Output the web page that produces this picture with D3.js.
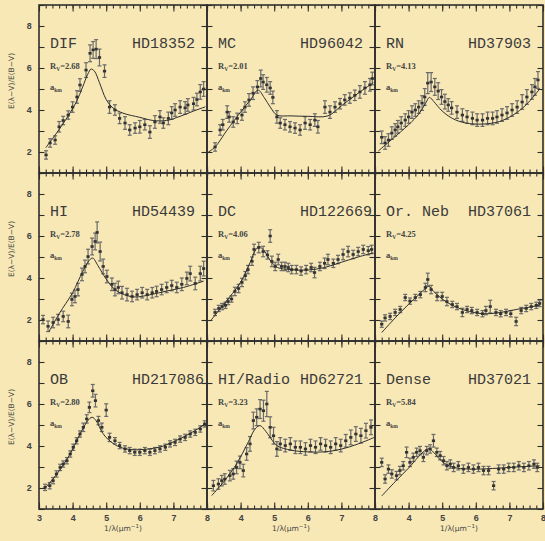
<!DOCTYPE html>
<html>
<head>
<meta charset="utf-8">
<script src="https://cdn.jsdelivr.net/npm/d3@7"></script>
<style>
  html, body { margin: 0; padding: 0; background: #f8e8b6; }
  svg { display: block; }
</style>
</head>
<body>
<svg id="chart" width="545" height="541"></svg>
<script>
// Extinction curves E(λ−V)/E(B−V) versus inverse wavelength, one panel per environment.
const groups = ["DIF", "MC", "RN", "HI", "DC", "Or. Neb", "OB", "HI/Radio", "Dense"];
const stars  = ["HD18352", "HD96042", "HD37903", "HD54439", "HD122669", "HD37061", "HD217086", "HD62721", "HD37021"];
const rvValues = ["2.68", "2.01", "4.13", "2.78", "4.06", "4.25", "2.80", "3.23", "5.84"];
const xTicks = [3, 4, 5, 6, 7, 8];
const yTicks = [2, 4, 6, 8];

// measurements: [1/λ, E(λ−V)/E(B−V), error]
const difPts = [[3.21,1.86,0.2],[3.33,2.43,0.2],[3.48,2.57,0.2],[3.6,3.2,0.25],[3.72,3.5,0.2],[3.87,3.76,0.2],[4.0,4.14,0.25],[4.13,4.62,0.3],[4.22,5.19,0.3],[4.4,5.9,0.35],[4.52,6.7,0.4],[4.61,6.86,0.4],[4.7,6.9,0.45],[4.8,6.5,0.4],[4.95,5.85,0.3],[5.1,4.14,0.3],[5.26,4.0,0.25],[5.4,3.6,0.25],[5.56,3.38,0.3],[5.7,3.05,0.25],[5.86,3.14,0.25],[6.0,3.2,0.3],[6.15,3.3,0.25],[6.3,2.95,0.3],[6.45,3.43,0.3],[6.6,3.67,0.3],[6.7,3.38,0.25],[6.85,3.6,0.3],[6.95,3.86,0.3],[7.05,4.0,0.3],[7.2,4.14,0.3],[7.35,4.1,0.3],[7.43,4.24,0.3],[7.6,4.3,0.3],[7.7,4.5,0.3],[7.8,4.86,0.35],[7.9,5.0,0.35]];
const mcPts = [[3.24,2.24,0.2],[3.39,3.05,0.25],[3.47,3.3,0.25],[3.6,3.9,0.3],[3.66,3.67,0.25],[3.78,3.43,0.25],[3.9,3.6,0.25],[4.04,3.76,0.25],[4.13,4.14,0.25],[4.25,4.48,0.3],[4.37,4.8,0.3],[4.5,5.1,0.3],[4.6,5.5,0.4],[4.67,5.33,0.35],[4.78,5.2,0.35],[4.88,5.05,0.3],[4.96,4.6,0.3],[5.08,3.67,0.3],[5.18,3.38,0.25],[5.32,3.3,0.25],[5.47,3.2,0.25],[5.62,3.14,0.25],[5.77,3.05,0.25],[5.92,3.38,0.3],[6.07,3.3,0.25],[6.21,3.52,0.3],[6.3,3.2,0.3],[6.51,4.14,0.3],[6.66,3.9,0.3],[6.81,4.14,0.25],[6.96,4.3,0.25],[7.1,4.48,0.25],[7.25,4.57,0.25],[7.4,4.7,0.25],[7.55,4.86,0.3],[7.7,5.05,0.3],[7.85,5.2,0.3],[7.92,5.5,0.3]];
const rnPts = [[3.2,2.7,0.3],[3.3,2.43,0.3],[3.4,2.57,0.3],[3.5,2.9,0.3],[3.6,3.05,0.3],[3.68,3.2,0.3],[3.78,3.38,0.3],[3.9,3.52,0.3],[4.0,3.67,0.3],[4.1,3.9,0.3],[4.2,4.0,0.3],[4.3,4.14,0.3],[4.4,4.33,0.35],[4.48,4.62,0.4],[4.57,5.28,0.5],[4.67,5.33,0.45],[4.78,5.1,0.4],[4.88,4.9,0.4],[4.98,4.62,0.35],[5.08,4.4,0.35],[5.18,4.24,0.3],[5.28,4.1,0.3],[5.44,3.9,0.3],[5.6,3.76,0.3],[5.74,3.67,0.3],[5.9,3.6,0.3],[6.04,3.52,0.3],[6.2,3.52,0.3],[6.35,3.6,0.3],[6.5,3.6,0.3],[6.63,3.67,0.3],[6.78,3.76,0.3],[6.93,3.86,0.3],[7.08,4.0,0.3],[7.23,4.14,0.3],[7.38,4.38,0.35],[7.52,4.62,0.35],[7.67,4.86,0.35],[7.76,5.1,0.4],[7.85,5.43,0.4]];
const hiPts = [[3.12,2.02,0.2],[3.27,1.7,0.25],[3.42,1.88,0.25],[3.57,2.02,0.25],[3.72,2.17,0.25],[3.87,1.93,0.3],[3.98,2.98,0.3],[4.07,3.12,0.3],[4.16,3.45,0.3],[4.28,4.17,0.3],[4.37,4.55,0.3],[4.46,5.02,0.35],[4.58,5.5,0.4],[4.67,5.74,0.4],[4.73,6.17,0.5],[4.82,5.26,0.45],[4.91,4.55,0.35],[5.02,4.07,0.3],[5.17,3.7,0.3],[5.26,3.45,0.3],[5.36,3.55,0.3],[5.47,3.3,0.3],[5.62,3.21,0.3],[5.77,3.12,0.25],[5.92,3.21,0.25],[6.07,3.3,0.25],[6.22,3.21,0.25],[6.37,3.3,0.25],[6.5,3.36,0.25],[6.65,3.45,0.25],[6.8,3.55,0.25],[6.95,3.64,0.25],[7.1,3.55,0.25],[7.25,3.7,0.3],[7.4,3.98,0.3],[7.5,4.21,0.35],[7.65,3.74,0.3],[7.8,4.21,0.35],[7.9,4.45,0.35]];
const dcPts = [[3.24,2.36,0.15],[3.35,2.55,0.15],[3.45,2.64,0.15],[3.55,2.7,0.15],[3.63,2.88,0.15],[3.73,3.0,0.15],[3.83,3.36,0.2],[3.94,3.5,0.2],[4.04,3.79,0.2],[4.14,4.11,0.2],[4.22,4.4,0.2],[4.34,4.8,0.2],[4.4,5.36,0.25],[4.54,5.45,0.25],[4.67,5.26,0.25],[4.8,5.1,0.2],[4.88,6.0,0.3],[4.93,4.79,0.25],[5.03,4.55,0.2],[5.12,4.88,0.25],[5.22,4.55,0.2],[5.32,4.55,0.2],[5.42,4.5,0.2],[5.52,4.4,0.2],[5.66,4.4,0.2],[5.8,4.33,0.2],[5.95,4.4,0.2],[6.1,4.5,0.2],[6.2,4.26,0.25],[6.36,4.55,0.2],[6.5,4.7,0.25],[6.6,4.88,0.25],[6.76,4.7,0.2],[6.9,4.88,0.2],[7.05,5.12,0.25],[7.2,5.26,0.25],[7.35,5.12,0.2],[7.5,5.26,0.2],[7.65,5.36,0.2],[7.8,5.3,0.2],[7.9,5.36,0.2]];
const orionPts = [[3.2,1.8,0.15],[3.3,2.1,0.15],[3.45,2.17,0.15],[3.6,2.36,0.15],[3.75,2.5,0.15],[3.9,3.07,0.15],[4.04,2.9,0.15],[4.2,3.07,0.15],[4.35,3.21,0.15],[4.5,3.55,0.2],[4.57,3.93,0.3],[4.67,3.45,0.2],[4.85,3.12,0.2],[5.0,3.12,0.2],[5.14,2.88,0.2],[5.3,2.74,0.15],[5.44,2.64,0.15],[5.6,2.36,0.2],[5.74,2.5,0.15],[5.88,2.45,0.15],[6.04,2.36,0.15],[6.2,2.3,0.15],[6.3,2.45,0.2],[6.43,2.64,0.3],[6.6,2.36,0.15],[6.74,2.3,0.15],[6.9,2.36,0.15],[7.04,2.3,0.15],[7.2,1.93,0.2],[7.35,2.45,0.15],[7.5,2.55,0.15],[7.65,2.64,0.15],[7.8,2.7,0.15],[7.9,2.79,0.15]];
const obPts = [[3.18,2.03,0.15],[3.32,2.11,0.15],[3.42,2.35,0.15],[3.52,2.67,0.15],[3.63,2.98,0.15],[3.72,3.14,0.15],[3.83,3.3,0.15],[3.93,3.62,0.15],[4.02,3.94,0.15],[4.12,4.25,0.15],[4.22,4.57,0.15],[4.32,4.89,0.2],[4.42,5.29,0.2],[4.5,5.84,0.25],[4.6,6.63,0.3],[4.68,6.16,0.3],[4.77,5.21,0.2],[4.87,4.89,0.2],[5.0,5.71,0.3],[5.1,4.41,0.2],[5.26,4.25,0.15],[5.4,4.02,0.15],[5.56,3.86,0.15],[5.7,3.78,0.15],[5.85,3.7,0.15],[6.0,3.7,0.15],[6.15,3.78,0.15],[6.3,3.7,0.15],[6.45,3.78,0.15],[6.6,3.86,0.15],[6.76,3.94,0.15],[6.9,4.1,0.15],[7.05,4.17,0.15],[7.2,4.33,0.15],[7.35,4.41,0.15],[7.5,4.57,0.15],[7.65,4.65,0.15],[7.8,4.81,0.15],[7.93,5.05,0.15]];
const radioPts = [[3.19,2.11,0.25],[3.34,2.19,0.25],[3.44,2.35,0.25],[3.53,2.43,0.25],[3.68,2.59,0.25],[3.78,2.67,0.25],[3.88,2.98,0.3],[3.98,3.22,0.3],[4.08,2.83,0.3],[4.18,3.62,0.3],[4.28,4.1,0.35],[4.38,5.21,0.4],[4.48,5.37,0.4],[4.58,5.76,0.45],[4.68,5.68,0.5],[4.78,6.0,0.6],[4.88,4.89,0.5],[4.98,4.49,0.4],[5.08,3.86,0.35],[5.18,4.1,0.3],[5.33,4.02,0.3],[5.48,4.1,0.3],[5.63,3.94,0.3],[5.78,3.94,0.3],[5.93,3.86,0.3],[6.08,4.02,0.3],[6.23,3.94,0.3],[6.38,4.1,0.3],[6.53,4.02,0.3],[6.68,3.94,0.3],[6.83,4.1,0.3],[6.98,4.02,0.3],[7.13,4.25,0.3],[7.28,4.41,0.35],[7.43,4.57,0.35],[7.58,4.49,0.35],[7.73,4.73,0.35],[7.88,4.89,0.35]];
const densePts = [[3.2,3.22,0.2],[3.3,2.43,0.2],[3.4,2.9,0.2],[3.5,2.67,0.2],[3.64,2.59,0.2],[3.74,2.83,0.2],[3.84,3.06,0.2],[3.94,3.7,0.25],[4.04,3.22,0.2],[4.14,3.46,0.2],[4.24,3.7,0.2],[4.34,3.78,0.2],[4.44,3.46,0.2],[4.54,3.78,0.2],[4.64,3.86,0.2],[4.74,4.25,0.3],[4.84,3.7,0.2],[4.94,3.54,0.2],[5.04,3.3,0.2],[5.14,3.06,0.2],[5.24,3.14,0.2],[5.34,2.98,0.2],[5.48,3.06,0.2],[5.63,2.9,0.2],[5.78,2.98,0.2],[5.93,2.9,0.2],[6.08,2.98,0.2],[6.23,2.83,0.2],[6.38,2.83,0.2],[6.53,2.11,0.2],[6.68,2.9,0.2],[6.83,2.9,0.2],[6.98,2.98,0.2],[7.13,2.98,0.2],[7.28,3.06,0.2],[7.43,2.98,0.2],[7.58,3.06,0.2],[7.73,3.14,0.2],[7.83,2.98,0.2]];

// fitted curves: [1/λ, E(λ−V)/E(B−V)]
const difFit = [[3.2,2.2],[3.5,2.85],[3.8,3.55],[4.1,4.35],[4.3,5.1],[4.45,5.7],[4.55,5.95],[4.65,5.85],[4.8,5.3],[5.0,4.5],[5.2,4.1],[5.5,3.85],[6.0,3.65],[6.4,3.5],[6.8,3.5],[7.2,3.7],[7.6,3.95],[7.95,4.15]];
const mcFit = [[3.0,1.95],[3.24,2.24],[3.6,3.05],[4.0,3.9],[4.3,4.5],[4.52,4.95],[4.7,4.6],[4.9,4.1],[5.08,3.76],[5.5,3.72],[6.0,3.7],[6.6,3.72],[7.0,4.2],[7.5,4.8],[7.95,5.3]];
const rnFit = [[3.1,2.05],[3.5,2.6],[4.0,3.3],[4.3,3.8],[4.5,4.3],[4.62,4.6],[4.75,4.4],[5.0,3.95],[5.3,3.6],[5.7,3.38],[6.2,3.33],[6.7,3.45],[7.1,3.75],[7.5,4.25],[7.9,5.0]];
const hiFit = [[3.3,1.45],[3.6,2.3],[4.0,3.3],[4.3,4.3],[4.5,4.85],[4.6,4.95],[4.75,4.6],[5.0,3.95],[5.3,3.4],[5.8,3.1],[6.3,3.2],[6.8,3.38],[7.3,3.55],[7.9,3.85]];
const dcFit = [[3.1,1.95],[3.5,2.75],[4.0,3.8],[4.3,4.8],[4.45,5.35],[4.55,5.5],[4.7,5.3],[4.9,4.8],[5.1,4.5],[5.5,4.4],[6.0,4.38],[6.5,4.5],[7.0,4.75],[7.5,5.0],[7.95,5.2]];
const orionFit = [[3.2,1.4],[3.6,2.1],[4.0,2.75],[4.3,3.2],[4.5,3.5],[4.6,3.6],[4.75,3.35],[5.0,3.0],[5.3,2.7],[5.7,2.45],[6.2,2.3],[6.7,2.35],[7.2,2.5],[7.9,2.7]];
const obFit = [[3.15,1.95],[3.5,2.6],[3.9,3.55],[4.2,4.5],[4.45,5.2],[4.58,5.37],[4.7,5.2],[4.9,4.6],[5.1,4.25],[5.4,3.95],[5.8,3.82],[6.2,3.85],[6.6,3.95],[7.0,4.2],[7.5,4.6],[7.95,5.05]];
const radioFit = [[3.14,1.64],[3.5,2.3],[3.9,3.2],[4.2,4.1],[4.45,4.85],[4.58,4.97],[4.75,4.7],[4.95,4.25],[5.1,4.0],[5.5,3.8],[6.0,3.72],[6.5,3.72],[7.0,3.85],[7.5,4.1],[7.98,4.41]];
const denseFit = [[3.2,1.62],[3.6,2.3],[4.0,2.95],[4.3,3.5],[4.5,3.8],[4.62,3.86],[4.8,3.6],[5.0,3.25],[5.3,3.0],[5.8,2.9],[6.5,2.93],[7.2,3.0],[7.9,3.06]];

const pointSets = [difPts, mcPts, rnPts, hiPts, dcPts, orionPts, obPts, radioPts, densePts];
const fitSets = [difFit, mcFit, rnFit, hiFit, dcFit, orionFit, obFit, radioFit, denseFit];

// layout
const gridLeft = 39, gridTop = 5, pw = 168, ph = 168;
const ink = "#2e2e2e";
const mono = "'Liberation Mono', 'DejaVu Sans Mono', monospace";
const svg = d3.select("#chart");

svg.append("rect").attr("width", 545).attr("height", 541).attr("fill", "#f8e8b6");

const line = d3.line().curve(d3.curveCatmullRom.alpha(0.5));

groups.forEach((name, i) => {
  const col = i % 3, row = Math.floor(i / 3);
  const x0 = gridLeft + col * pw, y0 = gridTop + row * ph;
  const x = d3.scaleLinear().domain([3, 8]).range([x0, x0 + pw]);
  const y = d3.scaleLinear().domain([1, 9]).range([y0 + ph, y0]);
  const g = svg.append("g");

  // inward ticks on all four sides
  const minorX = d3.range(3, 8.001, 0.2);
  const addAxis = (axis, tr) => {
    const a = g.append("g").attr("transform", tr).call(axis);
    a.select(".domain").remove();
    a.selectAll("line").attr("stroke", ink).attr("stroke-width", 1.1);
    a.selectAll("text").remove();
  };
  addAxis(d3.axisBottom(x).tickValues(minorX).tickSize(-3.5).tickSizeOuter(0), `translate(0,${y0 + ph})`);
  addAxis(d3.axisBottom(x).tickValues(xTicks).tickSize(-6.5).tickSizeOuter(0), `translate(0,${y0 + ph})`);
  addAxis(d3.axisTop(x).tickValues(minorX).tickSize(-3.5).tickSizeOuter(0), `translate(0,${y0})`);
  addAxis(d3.axisTop(x).tickValues(xTicks).tickSize(-6.5).tickSizeOuter(0), `translate(0,${y0})`);
  addAxis(d3.axisLeft(y).tickValues(d3.range(1, 10)).tickSize(-5.5).tickSizeOuter(0), `translate(${x0},0)`);
  addAxis(d3.axisRight(y).tickValues(d3.range(1, 10)).tickSize(-5.5).tickSizeOuter(0), `translate(${x0 + pw},0)`);

  // tick labels on the outer edges only
  if (col === 0) {
    const a = g.append("g").attr("transform", `translate(${x0 - 4},0)`)
      .call(d3.axisLeft(y).tickValues(yTicks).tickSize(0).tickFormat(d3.format("d")));
    a.select(".domain").remove();
    a.selectAll("text").attr("font-family", mono).attr("font-size", 9).attr("font-weight", "bold").attr("fill", "#444");
  }
  if (row === 2) {
    const a = g.append("g").attr("transform", `translate(0,${y0 + ph + 3})`)
      .call(d3.axisBottom(x).tickValues(col === 0 ? xTicks : xTicks.slice(1)).tickSize(0).tickFormat(d3.format("d")));
    a.select(".domain").remove();
    a.selectAll("text").attr("font-family", mono).attr("font-size", 9).attr("font-weight", "bold").attr("fill", "#444");
    const t = g.append("text")
      .attr("x", x0 + pw / 2).attr("y", y0 + ph + 22)
      .attr("text-anchor", "middle").attr("font-family", "'DejaVu Sans', sans-serif").attr("font-size", 7.5).attr("fill", "#444");
    t.append("tspan").text("1/λ(μm");
    t.append("tspan").attr("dy", -3).attr("font-size", 5.5).text("−1");
    t.append("tspan").attr("dy", 3).text(")");
  }
  if (col === 0) {
    g.append("text")
      .attr("transform", `translate(14,${y0 + ph / 2 - 8}) rotate(-90)`)
      .attr("text-anchor", "middle").attr("font-family", "'DejaVu Sans', sans-serif").attr("font-size", 7.5).attr("fill", "#444")
      .text("E(λ−V)/E(B−V)");
  }

  // error bars with a dark centre mark
  const pts = pointSets[i];
  const bars = g.append("g").attr("stroke", "#6a6a6a").attr("stroke-width", 1.2);
  bars.append("g").selectAll("line").data(pts).join("line")
    .attr("x1", d => x(d[0])).attr("x2", d => x(d[0]))
    .attr("y1", d => y(d[1] - d[2])).attr("y2", d => y(d[1] + d[2]));
  bars.append("g").selectAll("line").data(pts).join("line")
    .attr("x1", d => x(d[0]) - 2).attr("x2", d => x(d[0]) + 2)
    .attr("y1", d => y(d[1] - d[2])).attr("y2", d => y(d[1] - d[2]));
  bars.append("g").selectAll("line").data(pts).join("line")
    .attr("x1", d => x(d[0]) - 2).attr("x2", d => x(d[0]) + 2)
    .attr("y1", d => y(d[1] + d[2])).attr("y2", d => y(d[1] + d[2]));
  g.append("g").selectAll("rect").data(pts).join("rect")
    .attr("x", d => x(d[0]) - 1.6).attr("y", d => y(d[1]) - 1.3)
    .attr("width", 3.2).attr("height", 2.6).attr("fill", "#333");

  // fitted curve
  g.append("path")
    .attr("d", line(fitSets[i].map(d => [x(d[0]), y(d[1])])))
    .attr("fill", "none").attr("stroke", ink).attr("stroke-width", 1);

  // panel labels
  g.append("text").attr("x", x0 + 11).attr("y", y0 + 43)
    .attr("font-family", mono).attr("font-size", 15).attr("fill", "#3a3a3a").text(name);
  g.append("text").attr("x", x0 + 93).attr("y", y0 + 43)
    .attr("font-family", mono).attr("font-size", 15).attr("fill", "#3a3a3a").text(stars[i]);
  const rv = g.append("text").attr("x", x0 + 11).attr("y", y0 + 64)
    .attr("font-family", "'Liberation Serif', serif").attr("font-size", 8.5).attr("font-weight", "bold").attr("fill", "#444");
  rv.append("tspan").text("R");
  rv.append("tspan").attr("dy", 2).attr("font-size", 5.5).text("V");
  rv.append("tspan").attr("dy", -2).text("=" + rvValues[i]);
  const ak = g.append("text").attr("x", x0 + 11).attr("y", y0 + 85)
    .attr("font-family", "'Liberation Serif', serif").attr("font-size", 8.5).attr("font-weight", "bold").attr("fill", "#444");
  ak.append("tspan").text("a");
  ak.append("tspan").attr("dy", 2).attr("font-size", 5.5).text("km");

  // panel frame
  g.append("rect").attr("x", x0).attr("y", y0).attr("width", pw).attr("height", ph)
    .attr("fill", "none").attr("stroke", ink).attr("stroke-width", 1.6);
});
</script>
</body>
</html>
